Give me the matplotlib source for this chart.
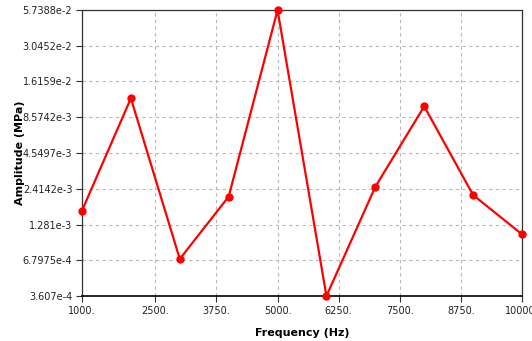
import numpy as np
import matplotlib
matplotlib.use("Agg")
from matplotlib import pyplot as plt

# data
freq = [1000, 2000, 3000, 4000, 5000, 6000, 7000, 8000, 9000, 10000]
amp = [1.637e-3, 1.20e-2, 6.95e-4, 2.10e-3, 5.7388e-2, 3.607e-4,
       2.50e-3, 1.04e-2, 2.16e-3, 1.077e-3]

xticks = [1000, 2500, 3750, 5000, 6250, 7500, 8750, 10000]
xtick_labels = ["1000.", "2500.", "3750.", "5000.", "6250.", "7500.", "8750.", "10000."]
yticks = [3.607e-4, 6.7975e-4, 1.281e-3, 2.4142e-3, 4.5497e-3,
          8.5742e-3, 1.6159e-2, 3.0452e-2, 5.7388e-2]
ytick_labels = ["3.607e-4", "6.7975e-4", "1.281e-3", "2.4142e-3", "4.5497e-3",
                "8.5742e-3", "1.6159e-2", "3.0452e-2", "5.7388e-2"]

plt.rcParams["font.family"] = ["DejaVu Sans"]

fig = plt.figure(figsize=(5.32, 3.41), dpi=100)
ax = fig.add_axes([82 / 532, 45 / 341, 440 / 532, 286 / 341])

ax.plot(freq, amp, color="#ff0000", lw=1.6, marker="o", ms=5, clip_on=False, zorder=3)

ax.set_yscale("log")
ax.set_xlim(1000, 10000)
ax.set_ylim(yticks[0], yticks[-1])
ax.set_xticks(xticks)
ax.set_xticklabels(xtick_labels)
ax.set_yticks(yticks)
ax.set_yticklabels(ytick_labels)
ax.yaxis.set_minor_locator(plt.NullLocator())

ax.tick_params(axis="both", labelsize=7, length=4, width=0.8, color="#333333",
               labelcolor="#222222", pad=3)
ax.grid(True, color="#b8b8b8", ls=(0, (3, 3)), lw=0.8)

for side in ["left", "top", "right"]:
    ax.spines[side].set_color("#333333")
    ax.spines[side].set_linewidth(0.9)
ax.spines["bottom"].set_color("black")
ax.spines["bottom"].set_linewidth(1.2)

ax.set_xlabel("Frequency (Hz)", fontsize=8, fontweight="bold", labelpad=9)
ax.set_ylabel("Amplitude (MPa)", fontsize=8, fontweight="bold", labelpad=-2)

fig.savefig("out.png", dpi=100)
